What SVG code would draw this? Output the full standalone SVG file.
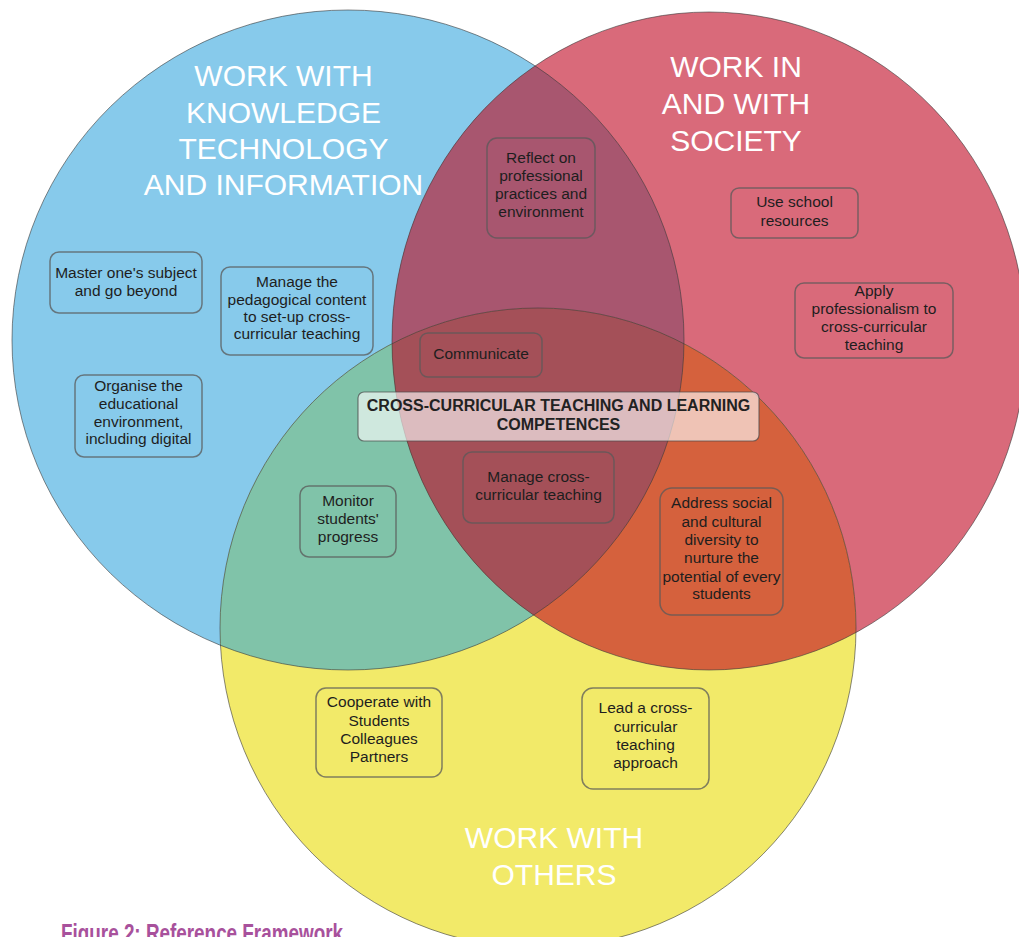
<svg xmlns="http://www.w3.org/2000/svg" width="1019" height="937" viewBox="0 0 1019 937">
<style>
.title{font-family:"Liberation Sans",Arial,sans-serif;font-size:30px;fill:#ffffff;text-anchor:middle}
.box{fill:none;stroke:#5a5a5a;stroke-opacity:0.75;stroke-width:1.5}
.lbl{font-family:"Liberation Sans",Arial,sans-serif;font-size:15.5px;fill:#1e1e1e;text-anchor:middle}
.edge{fill:none;stroke:#3a3a3a;stroke-opacity:0.6;stroke-width:1}
.center{font-family:"Liberation Sans",Arial,sans-serif;font-size:16px;font-weight:bold;fill:#222;text-anchor:middle}
.caption{font-family:"Liberation Sans",Arial,sans-serif;font-size:25px;font-weight:bold;fill:#a8519c}
</style>
<defs>
<clipPath id="cB"><ellipse cx="348" cy="340" rx="336" ry="330"/></clipPath>
<clipPath id="cR"><ellipse cx="709" cy="341" rx="317" ry="329"/></clipPath>
</defs>
<rect width="1019" height="937" fill="#ffffff"/>
<g id="circles">
<ellipse cx="348" cy="340" rx="336" ry="330" fill="#87caeb"/>
<ellipse cx="709" cy="341" rx="317" ry="329" fill="#d96a7a"/>
<ellipse cx="538" cy="628" rx="318" ry="320" fill="#f2ea69"/>
<ellipse clip-path="url(#cB)" cx="709" cy="341" rx="317" ry="329" fill="#a8566f"/>
<ellipse clip-path="url(#cB)" cx="538" cy="628" rx="318" ry="320" fill="#80c3a9"/>
<ellipse clip-path="url(#cR)" cx="538" cy="628" rx="318" ry="320" fill="#d5613d"/>
<g clip-path="url(#cB)"><ellipse clip-path="url(#cR)" cx="538" cy="628" rx="318" ry="320" fill="#a45058"/></g>
<ellipse class="edge" cx="348" cy="340" rx="336" ry="330"/>
<ellipse class="edge" cx="709" cy="341" rx="317" ry="329"/>
<ellipse class="edge" cx="538" cy="628" rx="318" ry="320"/>
</g>
<g id="title-knowledge">
<text class="title" x="283.5" y="86">WORK WITH</text>
<text class="title" x="283.5" y="122.5">KNOWLEDGE</text>
<text class="title" x="283.5" y="159">TECHNOLOGY</text>
<text class="title" x="283.5" y="195">AND INFORMATION</text>
</g>
<g id="title-society">
<text class="title" x="736" y="77">WORK IN</text>
<text class="title" x="736" y="114">AND WITH</text>
<text class="title" x="736" y="150.5">SOCIETY</text>
</g>
<g id="title-others">
<text class="title" x="554" y="848">WORK WITH</text>
<text class="title" x="554" y="885">OTHERS</text>
</g>
<g id="node-master">
<rect class="box" x="50" y="252" width="152" height="61" rx="9"/>
<text class="lbl" x="126" y="278">Master one's subject</text>
<text class="lbl" x="126" y="296">and go beyond</text>
</g>
<g id="node-pedagogical">
<rect class="box" x="221" y="267" width="152" height="88" rx="9"/>
<text class="lbl" x="297" y="287">Manage the</text>
<text class="lbl" x="297" y="305">pedagogical content</text>
<text class="lbl" x="297" y="322">to set-up cross-</text>
<text class="lbl" x="297" y="339">curricular teaching</text>
</g>
<g id="node-organise">
<rect class="box" x="75" y="375" width="127" height="82" rx="9"/>
<text class="lbl" x="138.5" y="391">Organise the</text>
<text class="lbl" x="138.5" y="409">educational</text>
<text class="lbl" x="138.5" y="427">environment,</text>
<text class="lbl" x="138.5" y="444">including digital</text>
</g>
<g id="node-monitor">
<rect class="box" x="300" y="486" width="96" height="71" rx="9"/>
<text class="lbl" x="348" y="506">Monitor</text>
<text class="lbl" x="348" y="524">students'</text>
<text class="lbl" x="348" y="542">progress</text>
</g>
<g id="node-communicate">
<rect class="box" x="420" y="333" width="122" height="44" rx="8"/>
<text class="lbl" x="481" y="359">Communicate</text>
</g>
<g id="node-reflect">
<rect class="box" x="487" y="138" width="108" height="100" rx="10"/>
<text class="lbl" x="541" y="163">Reflect on</text>
<text class="lbl" x="541" y="181">professional</text>
<text class="lbl" x="541" y="199">practices and</text>
<text class="lbl" x="541" y="217">environment</text>
</g>
<g id="node-school">
<rect class="box" x="731" y="188" width="127" height="50" rx="8"/>
<text class="lbl" x="794.5" y="207">Use school</text>
<text class="lbl" x="794.5" y="226">resources</text>
</g>
<g id="node-apply">
<rect class="box" x="795" y="283" width="158" height="75" rx="9"/>
<text class="lbl" x="874" y="296">Apply</text>
<text class="lbl" x="874" y="314">professionalism to</text>
<text class="lbl" x="874" y="332">cross-curricular</text>
<text class="lbl" x="874" y="350">teaching</text>
</g>
<g id="node-manage-cross">
<rect class="box" x="463" y="452" width="151" height="71" rx="9"/>
<text class="lbl" x="538.5" y="482">Manage cross-</text>
<text class="lbl" x="538.5" y="500">curricular teaching</text>
</g>
<g id="node-address">
<rect class="box" x="660" y="488" width="123" height="127" rx="12"/>
<text class="lbl" x="721.5" y="508">Address social</text>
<text class="lbl" x="721.5" y="527">and cultural</text>
<text class="lbl" x="721.5" y="545">diversity to</text>
<text class="lbl" x="721.5" y="563">nurture the</text>
<text class="lbl" x="721.5" y="582">potential of every</text>
<text class="lbl" x="721.5" y="599">students</text>
</g>
<g id="node-cooperate">
<rect class="box" x="316" y="688" width="126" height="89" rx="10"/>
<text class="lbl" x="379" y="707">Cooperate with</text>
<text class="lbl" x="379" y="726">Students</text>
<text class="lbl" x="379" y="744">Colleagues</text>
<text class="lbl" x="379" y="762">Partners</text>
</g>
<g id="node-lead">
<rect class="box" x="582" y="688" width="127" height="101" rx="11"/>
<text class="lbl" x="645.5" y="713">Lead a cross-</text>
<text class="lbl" x="645.5" y="732">curricular</text>
<text class="lbl" x="645.5" y="750">teaching</text>
<text class="lbl" x="645.5" y="768">approach</text>
</g>
<g id="node-central">
<rect x="358" y="392" width="401" height="49" rx="6" fill="#ffffff" fill-opacity="0.62" stroke="#4a4a4a" stroke-opacity="0.7" stroke-width="1.2"/>
<text class="center" x="558.5" y="411">CROSS-CURRICULAR TEACHING AND LEARNING</text>
<text class="center" x="558.5" y="430">COMPETENCES</text>
</g>
<g id="connectors"></g>
<text class="caption" x="61" y="942" textLength="282" lengthAdjust="spacingAndGlyphs">Figure 2: Reference Framework</text>
</svg>
